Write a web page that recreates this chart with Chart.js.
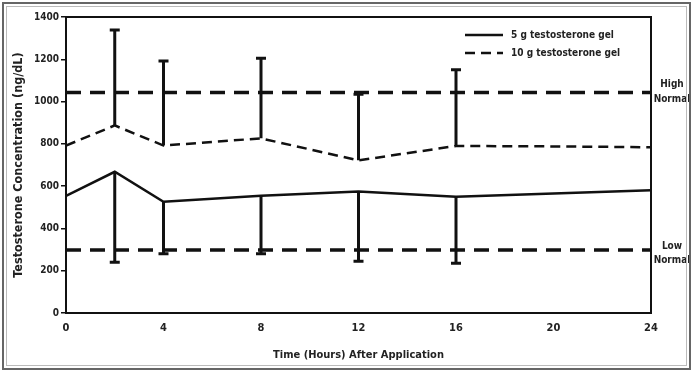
<!DOCTYPE html>
<html>
<head>
<meta charset="utf-8">
<script src="https://cdn.jsdelivr.net/npm/chart.js@4.4.1/dist/chart.umd.min.js"></script>
<style>
  html, body { margin: 0; padding: 0; background: #fff; }
  #wrap { width: 693px; height: 373px; }
</style>
</head>
<body>
<div id="wrap"><canvas id="chart"></canvas></div>
<script>
const FONT = "'Liberation Sans Narrow', 'DejaVu Sans Condensed', 'Roboto', sans-serif";

const hours = [0, 2, 4, 8, 12, 16, 20, 24];
const gel5 = [554, 668, 526, 554, 575, 550, 565, 580];
const gel10 = [792, 887, 792, 826, 722, 790, 788, 784];

// error bars: 5 g hangs down, 10 g goes up
const barHours = [2, 4, 8, 12, 16];
const gel5Low = [240, 280, 280, 245, 235];
const gel10High = [1338, 1192, 1205, 1035, 1150];

const highNormal = 1043;
const lowNormal = 298;

const xTicks = [0, 4, 8, 12, 16, 20, 24];

const pts = (xs, ys) => xs.map((x, i) => ({ x, y: ys[i] }));

const decorations = {
    id: "decorations",
    afterDatasetsDraw(chart) {
        const { ctx, chartArea: a, scales: { x, y } } = chart;
        ctx.save();

        // plot box: top and right edges
        ctx.strokeStyle = "#111";
        ctx.lineWidth = 2;
        ctx.beginPath();
        ctx.moveTo(a.left, a.top);
        ctx.lineTo(a.right, a.top);
        ctx.lineTo(a.right, a.bottom);
        ctx.stroke();

        // error bars
        ctx.lineWidth = 3;
        ctx.strokeStyle = "#111";
        const cap = 5;
        barHours.forEach((h, i) => {
            const px = x.getPixelForValue(h);
            const j = hours.indexOf(h);
            const pairs = [[gel5[j], gel5Low[i]], [gel10[j], gel10High[i]]];
            pairs.forEach(([from, to]) => {
                const y0 = y.getPixelForValue(from);
                const y1 = y.getPixelForValue(to);
                ctx.beginPath();
                ctx.moveTo(px, y0);
                ctx.lineTo(px, y1);
                ctx.moveTo(px - cap, y1);
                ctx.lineTo(px + cap, y1);
                ctx.stroke();
            });
        });

        // right-hand labels for the normal range
        ctx.fillStyle = "#222";
        ctx.font = "bold 10px " + FONT;
        ctx.textAlign = "center";
        ctx.textBaseline = "middle";
        const lx = a.right + 21;
        const hy = y.getPixelForValue(highNormal);
        ctx.fillText("High", lx, hy - 8);
        ctx.fillText("Normal", lx, hy + 7);
        const ly = y.getPixelForValue(lowNormal);
        ctx.fillText("Low", lx, ly - 4);
        ctx.fillText("Normal", lx, ly + 10);

        // legend
        ctx.font = "bold 10px " + FONT;
        ctx.textAlign = "left";
        const legendSets = chart.data.datasets.filter(d => d.inLegend);
        legendSets.forEach((d, i) => {
            const ry = 35 + i * 18;
            ctx.lineWidth = d.borderWidth;
            ctx.strokeStyle = d.borderColor;
            ctx.setLineDash(d.borderDash || []);
            ctx.beginPath();
            ctx.moveTo(465, ry);
            ctx.lineTo(503, ry);
            ctx.stroke();
            ctx.setLineDash([]);
            ctx.fillText(d.label, 511, ry);
        });

        // outer frame
        ctx.lineWidth = 2;
        ctx.strokeStyle = "#666";
        ctx.strokeRect(3, 3, 687, 366);
        ctx.lineWidth = 1;
        ctx.strokeStyle = "#bbb";
        ctx.strokeRect(6.5, 6.5, 680, 359);
        ctx.restore();
    }
};

new Chart(document.getElementById("chart"), {
    type: "line",
    data: {
        datasets: [
            {
                label: "5 g testosterone gel", inLegend: true,
                data: pts(hours, gel5),
                borderColor: "#111", borderWidth: 2.5, pointRadius: 0,
            },
            {
                label: "10 g testosterone gel", inLegend: true,
                data: pts(hours, gel10),
                borderColor: "#111", borderWidth: 2.5, borderDash: [10, 6], pointRadius: 0,
            },
            {
                label: "High Normal",
                data: pts([0, 24], [highNormal, highNormal]),
                borderColor: "#111", borderWidth: 3.5, borderDash: [15, 9], pointRadius: 0,
            },
            {
                label: "Low Normal",
                data: pts([0, 24], [lowNormal, lowNormal]),
                borderColor: "#111", borderWidth: 3.5, borderDash: [15, 9], pointRadius: 0,
            },
        ],
    },
    options: {
        responsive: true, maintainAspectRatio: false, animation: false,
        layout: { padding: { left: 6, right: 42, top: 17, bottom: 6 } },
        plugins: { legend: { display: false }, tooltip: { enabled: false } },
        scales: {
            x: {
                type: "linear", min: 0, max: 24,
                afterBuildTicks: s => { s.ticks = xTicks.map(v => ({ value: v })); },
                afterFit: s => { s.height = 54; },
                grid: { display: false },
                border: { display: true, color: "#111", width: 2 },
                ticks: { color: "#222", font: { family: FONT, size: 11, weight: "bold" }, padding: 1, maxRotation: 0 },
                title: {
                    display: true, text: "Time (Hours) After Application", color: "#222",
                    font: { family: FONT, size: 11, weight: "bold" }, padding: { top: 8, bottom: 5 },
                },
            },
            y: {
                min: 0, max: 1400,
                ticks: {
                    stepSize: 200, color: "#222", padding: 2,
                    font: { family: FONT, size: 10, weight: "bold" },
                    callback: v => String(v),
                },
                afterFit: s => { s.width = 60; },
                grid: { display: true, drawOnChartArea: false, drawTicks: true, tickLength: 5, color: "#111", lineWidth: 1.5 },
                border: { display: true, color: "#111", width: 2 },
                title: {
                    display: true, text: "Testosterone Concentration (ng/dL)", color: "#222",
                    font: { family: FONT, size: 12.5, weight: "bold" }, padding: { top: 5, bottom: 0 },
                },
            },
        },
    },
    plugins: [decorations],
});
</script>
</body>
</html>
